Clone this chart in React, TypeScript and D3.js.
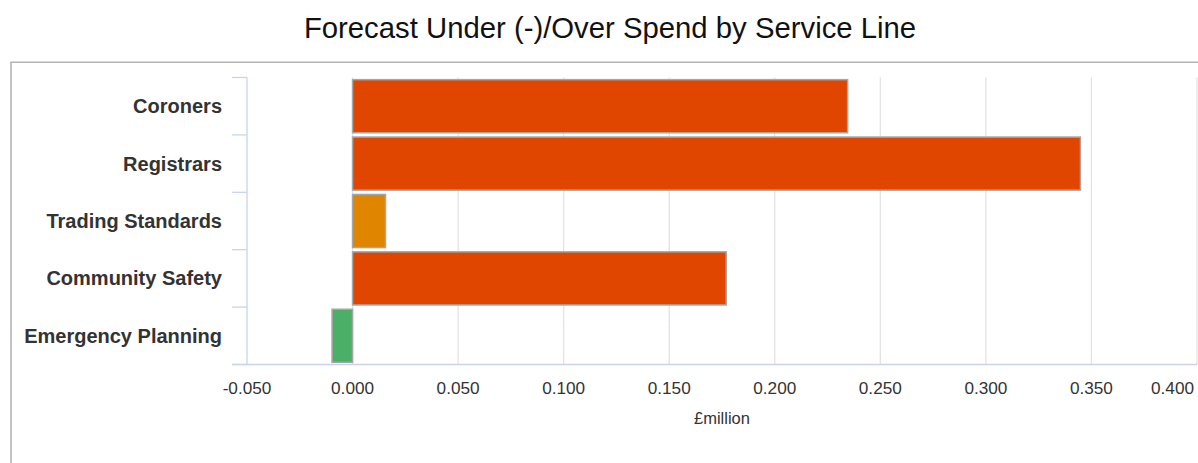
import React from "react";
import * as d3 from "d3";

const categories = ["Coroners", "Registrars", "Trading Standards", "Community Safety", "Emergency Planning"];
const values = [0.2345, 0.3448, 0.0156, 0.177, -0.0097];
const barColors = ["#e04600", "#e04600", "#e08500", "#e04600", "#4caf68"];
const xTicks = [-0.05, 0, 0.05, 0.1, 0.15, 0.2, 0.25, 0.3, 0.35, 0.4];
const title = "Forecast Under (-)/Over Spend by Service Line";
const xAxisTitle = "£million";

export default function App() {
  const W = 1198, H = 463;
  const x = d3.scaleLinear().domain([-0.05, 0.4]).range([247, 1197]);
  const y = d3.scaleBand<string>().domain(categories).range([77.5, 364.5]).paddingInner(0.075).paddingOuter(0.0375);
  const yTop = 77.5, yBot = 364.5;
  const boundaries = d3.range(categories.length + 1).map((i) => yTop + i * ((yBot - yTop) / categories.length));
  const font = "'Liberation Sans', Arial, Helvetica, sans-serif";
  return (
    <div style={{ position: "fixed", left: 0, top: 0 }}>
      <svg width={W} height={H} style={{ display: "block" }} fontFamily={font}>
        <rect x={0} y={0} width={W} height={H} fill="#fff" />
        <text x={610} y={38} textAnchor="middle" fontSize={29.3} fill="#111">{title}</text>
        {/* panel border */}
        <path d={`M11,${H + 2} L11,62.3 L${W + 2},62.3`} fill="none" stroke="#b4b4b4" strokeWidth={1.6} />
        {/* gridlines */}
        {xTicks.slice(1).map((t) => (
          <line key={"g" + t} x1={x(t)} x2={x(t)} y1={yTop} y2={yBot} stroke="#e3e3e3" strokeWidth={1.3} />
        ))}
        {/* bars */}
        {categories.map((c, i) => {
          const v = values[i];
          const x0 = x(Math.min(0, v));
          const x1 = x(Math.max(0, v));
          return (
            <rect key={c} x={x0} y={y(c)!} width={x1 - x0} height={y.bandwidth()} fill={barColors[i]} stroke="#a6a6a6" strokeWidth={1.5} />
          );
        })}
        {/* y axis */}
        <line x1={247} x2={247} y1={yTop} y2={yBot} stroke="#c9d3ec" strokeWidth={1.3} />
        {boundaries.map((b, i) => (
          <line key={"t" + i} x1={232} x2={247} y1={b} y2={b} stroke="#c9d3ec" strokeWidth={1.3} />
        ))}
        {/* x axis line */}
        <line x1={232} x2={1197} y1={yBot} y2={yBot} stroke="#c9d3ec" strokeWidth={1.3} />
        {categories.map((c) => (
          <text key={"l" + c} x={222} y={y(c)! + y.bandwidth() / 2} dy="0.35em" textAnchor="end" fontSize={20} fontWeight="bold" fill="#333">{c}</text>
        ))}
        {xTicks.map((t, i) => {
          const last = i === xTicks.length - 1;
          return (
            <text key={"x" + t} x={last ? 1194 : x(t)} y={394} textAnchor={last ? "end" : "middle"} fontSize={17.2} fill="#333">{t.toFixed(3)}</text>
          );
        })}
        <text x={(x(-0.05) + x(0.4)) / 2} y={424} textAnchor="middle" fontSize={16.5} fill="#333">{xAxisTitle}</text>
      </svg>
    </div>
  );
}
